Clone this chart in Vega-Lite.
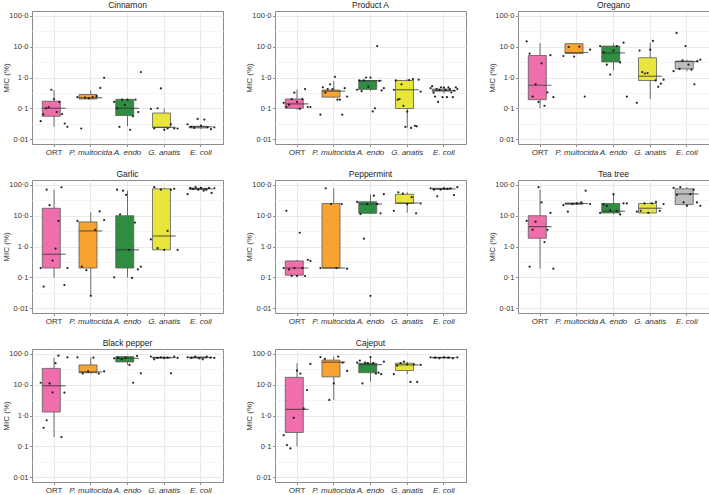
{
"$schema": "https://vega.github.io/schema/vega-lite/v6.json",
"padding": {"left": 1, "top": 0, "right": 0, "bottom": 0},
"config": {
  "font": "Liberation Sans",
  "view": {"stroke": "#8c8c8c", "strokeWidth": 1},
  "axis": {"labelFontSize": 7.5, "titleFontSize": 8, "titleFontWeight": "normal", "labelColor": "#333", "titleColor": "#333", "domain": false, "tickColor": "#8c8c8c", "tickSize": 2.5, "labelPadding": 1.5, "titlePadding": 1, "gridColor": "#e3e3e3", "gridWidth": 0.8, "minExtent": 0},
  "axisX": {"labelFontSize": 8},
  "axisY": {"titleX": -22},
  "header": {"labelFontSize": 8.5, "labelColor": "#222", "labelPadding": 2}
},
"data": {"values": [
{"oil":"Cinnamon","g":"ORT","lo":0.025,"q1":0.055,"med":0.1,"q3":0.17,"hi":0.39},
{"oil":"Cinnamon","g":"P. multocida","lo":0.2,"q1":0.2,"med":0.22,"q3":0.28,"hi":0.38},
{"oil":"Cinnamon","g":"A. endo","lo":0.026,"q1":0.058,"med":0.1,"q3":0.195,"hi":0.2},
{"oil":"Cinnamon","g":"G. anatis","lo":0.022,"q1":0.024,"med":0.024,"q3":0.07,"hi":0.098},
{"oil":"Cinnamon","g":"E. coli","lo":0.021,"q1":0.023,"med":0.025,"q3":0.026,"hi":0.03},
{"oil":"Product A","g":"ORT","lo":0.09,"q1":0.1,"med":0.14,"q3":0.2,"hi":0.41},
{"oil":"Product A","g":"P. multocida","lo":0.23,"q1":0.23,"med":0.36,"q3":0.39,"hi":0.76},
{"oil":"Product A","g":"A. endo","lo":0.36,"q1":0.41,"med":0.78,"q3":0.8,"hi":0.8},
{"oil":"Product A","g":"G. anatis","lo":0.023,"q1":0.098,"med":0.4,"q3":0.8,"hi":0.88},
{"oil":"Product A","g":"E. coli","lo":0.3,"q1":0.36,"med":0.38,"q3":0.42,"hi":0.5},
{"oil":"Oregano","g":"ORT","lo":0.1,"q1":0.19,"med":0.56,"q3":5.2,"hi":13},
{"oil":"Oregano","g":"P. multocida","lo":6,"q1":6,"med":6.5,"q3":12.6,"hi":12.6},
{"oil":"Oregano","g":"A. endo","lo":1.7,"q1":3.2,"med":6.3,"q3":10.5,"hi":12.6},
{"oil":"Oregano","g":"G. anatis","lo":0.2,"q1":0.8,"med":1.1,"q3":4.4,"hi":13.5},
{"oil":"Oregano","g":"E. coli","lo":1.6,"q1":1.9,"med":3.3,"q3":3.4,"hi":3.8},
{"oil":"Garlic","g":"ORT","lo":0.098,"q1":0.2,"med":0.56,"q3":17.5,"hi":70},
{"oil":"Garlic","g":"P. multocida","lo":0.025,"q1":0.2,"med":3.2,"q3":6.3,"hi":12.8},
{"oil":"Garlic","g":"A. endo","lo":0.098,"q1":0.2,"med":0.78,"q3":10,"hi":65},
{"oil":"Garlic","g":"G. anatis","lo":0.78,"q1":0.78,"med":2.2,"q3":75,"hi":80},
{"oil":"Garlic","g":"E. coli","lo":70,"q1":72,"med":75,"q3":78,"hi":85},
{"oil":"Peppermint","g":"ORT","lo":0.11,"q1":0.117,"med":0.2,"q3":0.34,"hi":0.37},
{"oil":"Peppermint","g":"P. multocida","lo":0.2,"q1":0.2,"med":0.2,"q3":25,"hi":78},
{"oil":"Peppermint","g":"A. endo","lo":11.3,"q1":12,"med":24,"q3":28.5,"hi":48},
{"oil":"Peppermint","g":"G. anatis","lo":12.5,"q1":25,"med":26,"q3":50,"hi":58},
{"oil":"Peppermint","g":"E. coli","lo":70,"q1":72,"med":75,"q3":78,"hi":85},
{"oil":"Tea tree","g":"ORT","lo":0.19,"q1":1.86,"med":4.4,"q3":10,"hi":70},
{"oil":"Tea tree","g":"P. multocida","lo":22,"q1":23.5,"med":25,"q3":26,"hi":27},
{"oil":"Tea tree","g":"A. endo","lo":11,"q1":12.3,"med":14,"q3":25,"hi":50},
{"oil":"Tea tree","g":"G. anatis","lo":12.3,"q1":12.3,"med":17.5,"q3":25,"hi":28},
{"oil":"Tea tree","g":"E. coli","lo":21,"q1":23,"med":51,"q3":75,"hi":85},
{"oil":"Black pepper","g":"ORT","lo":0.2,"q1":1.3,"med":9.3,"q3":34,"hi":76},
{"oil":"Black pepper","g":"P. multocida","lo":23,"q1":24.6,"med":26,"q3":44,"hi":78},
{"oil":"Black pepper","g":"A. endo","lo":44,"q1":55,"med":72,"q3":82,"hi":86},
{"oil":"Black pepper","g":"G. anatis","lo":67,"q1":74,"med":76,"q3":78,"hi":82},
{"oil":"Black pepper","g":"E. coli","lo":67,"q1":74,"med":77,"q3":79,"hi":82},
{"oil":"Cajeput","g":"ORT","lo":0.1,"q1":0.28,"med":1.58,"q3":17.4,"hi":50},
{"oil":"Cajeput","g":"P. multocida","lo":3.2,"q1":18,"med":54,"q3":63,"hi":82},
{"oil":"Cajeput","g":"A. endo","lo":12.5,"q1":24.6,"med":45,"q3":50,"hi":76},
{"oil":"Cajeput","g":"G. anatis","lo":22,"q1":29,"med":44,"q3":50,"hi":56},
{"oil":"Cajeput","g":"E. coli","lo":72,"q1":75,"med":76,"q3":78,"hi":79},

{"oil":"Cinnamon","g":"ORT","v":0.038,"k":1},{"oil":"Cinnamon","g":"ORT","v":0.063,"k":2},{"oil":"Cinnamon","g":"ORT","v":0.1,"k":3},{"oil":"Cinnamon","g":"ORT","v":0.11,"k":4},{"oil":"Cinnamon","g":"ORT","v":0.4,"k":5},{"oil":"Cinnamon","g":"ORT","v":0.2,"k":6},{"oil":"Cinnamon","g":"ORT","v":0.075,"k":7},{"oil":"Cinnamon","g":"ORT","v":0.16,"k":8},{"oil":"Cinnamon","g":"ORT","v":0.065,"k":9},{"oil":"Cinnamon","g":"ORT","v":0.032,"k":10},{"oil":"Cinnamon","g":"ORT","v":0.025,"k":11},
{"oil":"Cinnamon","g":"P. multocida","v":0.23,"k":1},{"oil":"Cinnamon","g":"P. multocida","v":0.022,"k":2},{"oil":"Cinnamon","g":"P. multocida","v":0.22,"k":3},{"oil":"Cinnamon","g":"P. multocida","v":0.21,"k":4},{"oil":"Cinnamon","g":"P. multocida","v":0.23,"k":5},{"oil":"Cinnamon","g":"P. multocida","v":0.25,"k":6},{"oil":"Cinnamon","g":"P. multocida","v":0.46,"k":7},{"oil":"Cinnamon","g":"P. multocida","v":0.98,"k":8},
{"oil":"Cinnamon","g":"A. endo","v":0.16,"k":1},{"oil":"Cinnamon","g":"A. endo","v":0.1,"k":2},{"oil":"Cinnamon","g":"A. endo","v":0.025,"k":3},{"oil":"Cinnamon","g":"A. endo","v":0.19,"k":4},{"oil":"Cinnamon","g":"A. endo","v":0.13,"k":5},{"oil":"Cinnamon","g":"A. endo","v":0.19,"k":6},{"oil":"Cinnamon","g":"A. endo","v":0.02,"k":7},{"oil":"Cinnamon","g":"A. endo","v":0.055,"k":8},{"oil":"Cinnamon","g":"A. endo","v":0.19,"k":9},{"oil":"Cinnamon","g":"A. endo","v":0.075,"k":10},{"oil":"Cinnamon","g":"A. endo","v":1.5,"k":11},
{"oil":"Cinnamon","g":"G. anatis","v":0.095,"k":1},{"oil":"Cinnamon","g":"G. anatis","v":0.022,"k":2},{"oil":"Cinnamon","g":"G. anatis","v":0.1,"k":3},{"oil":"Cinnamon","g":"G. anatis","v":0.44,"k":4},{"oil":"Cinnamon","g":"G. anatis","v":0.02,"k":5},{"oil":"Cinnamon","g":"G. anatis","v":0.022,"k":6},{"oil":"Cinnamon","g":"G. anatis","v":0.03,"k":7},{"oil":"Cinnamon","g":"G. anatis","v":0.022,"k":8},{"oil":"Cinnamon","g":"G. anatis","v":0.022,"k":9},
{"oil":"Cinnamon","g":"E. coli","v":0.03,"k":1},{"oil":"Cinnamon","g":"E. coli","v":0.025,"k":2},{"oil":"Cinnamon","g":"E. coli","v":0.023,"k":3},{"oil":"Cinnamon","g":"E. coli","v":0.045,"k":4},{"oil":"Cinnamon","g":"E. coli","v":0.027,"k":5},{"oil":"Cinnamon","g":"E. coli","v":0.043,"k":6},{"oil":"Cinnamon","g":"E. coli","v":0.024,"k":7},{"oil":"Cinnamon","g":"E. coli","v":0.021,"k":8},{"oil":"Cinnamon","g":"E. coli","v":0.024,"k":9},

{"oil":"Product A","g":"ORT","v":0.15,"k":1},{"oil":"Product A","g":"ORT","v":0.11,"k":2},{"oil":"Product A","g":"ORT","v":0.13,"k":3},{"oil":"Product A","g":"ORT","v":0.2,"k":4},{"oil":"Product A","g":"ORT","v":0.32,"k":5},{"oil":"Product A","g":"ORT","v":0.16,"k":6},{"oil":"Product A","g":"ORT","v":0.095,"k":7},{"oil":"Product A","g":"ORT","v":0.2,"k":8},{"oil":"Product A","g":"ORT","v":0.42,"k":9},{"oil":"Product A","g":"ORT","v":0.11,"k":10},{"oil":"Product A","g":"ORT","v":0.11,"k":11},
{"oil":"Product A","g":"P. multocida","v":0.062,"k":1},{"oil":"Product A","g":"P. multocida","v":0.48,"k":2},{"oil":"Product A","g":"P. multocida","v":0.32,"k":3},{"oil":"Product A","g":"P. multocida","v":0.42,"k":4},{"oil":"Product A","g":"P. multocida","v":0.6,"k":5},{"oil":"Product A","g":"P. multocida","v":0.42,"k":6},{"oil":"Product A","g":"P. multocida","v":1.05,"k":7},{"oil":"Product A","g":"P. multocida","v":0.19,"k":8},{"oil":"Product A","g":"P. multocida","v":0.19,"k":9},{"oil":"Product A","g":"P. multocida","v":0.062,"k":10},{"oil":"Product A","g":"P. multocida","v":0.45,"k":11},{"oil":"Product A","g":"P. multocida","v":0.24,"k":12},
{"oil":"Product A","g":"A. endo","v":0.4,"k":1},{"oil":"Product A","g":"A. endo","v":0.8,"k":2},{"oil":"Product A","g":"A. endo","v":0.36,"k":3},{"oil":"Product A","g":"A. endo","v":0.8,"k":4},{"oil":"Product A","g":"A. endo","v":1.0,"k":5},{"oil":"Product A","g":"A. endo","v":0.5,"k":6},{"oil":"Product A","g":"A. endo","v":1.0,"k":7},{"oil":"Product A","g":"A. endo","v":0.079,"k":8},{"oil":"Product A","g":"A. endo","v":0.1,"k":9},{"oil":"Product A","g":"A. endo","v":10.5,"k":10},{"oil":"Product A","g":"A. endo","v":0.78,"k":11},{"oil":"Product A","g":"A. endo","v":0.38,"k":12},{"oil":"Product A","g":"A. endo","v":0.45,"k":13},
{"oil":"Product A","g":"G. anatis","v":0.4,"k":1},{"oil":"Product A","g":"G. anatis","v":0.8,"k":2},{"oil":"Product A","g":"G. anatis","v":0.19,"k":3},{"oil":"Product A","g":"G. anatis","v":0.2,"k":4},{"oil":"Product A","g":"G. anatis","v":0.6,"k":5},{"oil":"Product A","g":"G. anatis","v":0.12,"k":6},{"oil":"Product A","g":"G. anatis","v":0.025,"k":7},{"oil":"Product A","g":"G. anatis","v":0.078,"k":8},{"oil":"Product A","g":"G. anatis","v":0.83,"k":9},{"oil":"Product A","g":"G. anatis","v":0.023,"k":10},{"oil":"Product A","g":"G. anatis","v":0.88,"k":11},{"oil":"Product A","g":"G. anatis","v":0.027,"k":12},{"oil":"Product A","g":"G. anatis","v":0.026,"k":13},{"oil":"Product A","g":"G. anatis","v":0.85,"k":14},{"oil":"Product A","g":"G. anatis","v":0.35,"k":15},
{"oil":"Product A","g":"E. coli","v":0.45,"k":1},{"oil":"Product A","g":"E. coli","v":0.52,"k":2},{"oil":"Product A","g":"E. coli","v":0.32,"k":3},{"oil":"Product A","g":"E. coli","v":0.24,"k":4},{"oil":"Product A","g":"E. coli","v":0.42,"k":5},{"oil":"Product A","g":"E. coli","v":0.16,"k":6},{"oil":"Product A","g":"E. coli","v":0.4,"k":7},{"oil":"Product A","g":"E. coli","v":0.48,"k":8},{"oil":"Product A","g":"E. coli","v":0.23,"k":9},{"oil":"Product A","g":"E. coli","v":0.47,"k":10},{"oil":"Product A","g":"E. coli","v":0.4,"k":11},{"oil":"Product A","g":"E. coli","v":0.23,"k":12},{"oil":"Product A","g":"E. coli","v":0.48,"k":13},{"oil":"Product A","g":"E. coli","v":0.42,"k":14},{"oil":"Product A","g":"E. coli","v":0.33,"k":15},{"oil":"Product A","g":"E. coli","v":0.23,"k":16},{"oil":"Product A","g":"E. coli","v":0.37,"k":17},{"oil":"Product A","g":"E. coli","v":0.48,"k":18},{"oil":"Product A","g":"E. coli","v":0.42,"k":19},

{"oil":"Oregano","g":"ORT","v":15,"k":1},{"oil":"Oregano","g":"ORT","v":6,"k":2},{"oil":"Oregano","g":"ORT","v":0.24,"k":3},{"oil":"Oregano","g":"ORT","v":0.6,"k":4},{"oil":"Oregano","g":"ORT","v":0.16,"k":5},{"oil":"Oregano","g":"ORT","v":2.9,"k":6},{"oil":"Oregano","g":"ORT","v":0.12,"k":7},{"oil":"Oregano","g":"ORT","v":0.33,"k":8},{"oil":"Oregano","g":"ORT","v":5.3,"k":9},{"oil":"Oregano","g":"ORT","v":0.23,"k":10},
{"oil":"Oregano","g":"P. multocida","v":5,"k":1},{"oil":"Oregano","g":"P. multocida","v":9.8,"k":2},{"oil":"Oregano","g":"P. multocida","v":4.8,"k":3},{"oil":"Oregano","g":"P. multocida","v":10,"k":4},{"oil":"Oregano","g":"P. multocida","v":0.24,"k":5},{"oil":"Oregano","g":"P. multocida","v":8,"k":6},
{"oil":"Oregano","g":"A. endo","v":10.5,"k":1},{"oil":"Oregano","g":"A. endo","v":6.6,"k":2},{"oil":"Oregano","g":"A. endo","v":2.6,"k":3},{"oil":"Oregano","g":"A. endo","v":1.25,"k":4},{"oil":"Oregano","g":"A. endo","v":7.5,"k":5},{"oil":"Oregano","g":"A. endo","v":10.5,"k":6},{"oil":"Oregano","g":"A. endo","v":3.1,"k":7},{"oil":"Oregano","g":"A. endo","v":13.5,"k":8},{"oil":"Oregano","g":"A. endo","v":0.24,"k":9},
{"oil":"Oregano","g":"G. anatis","v":0.15,"k":1},{"oil":"Oregano","g":"G. anatis","v":7.5,"k":2},{"oil":"Oregano","g":"G. anatis","v":1.5,"k":3},{"oil":"Oregano","g":"G. anatis","v":1.35,"k":4},{"oil":"Oregano","g":"G. anatis","v":1.4,"k":5},{"oil":"Oregano","g":"G. anatis","v":8,"k":6},{"oil":"Oregano","g":"G. anatis","v":15.5,"k":7},{"oil":"Oregano","g":"G. anatis","v":0.8,"k":8},{"oil":"Oregano","g":"G. anatis","v":0.5,"k":9},{"oil":"Oregano","g":"G. anatis","v":0.63,"k":10},{"oil":"Oregano","g":"G. anatis","v":0.85,"k":11},
{"oil":"Oregano","g":"E. coli","v":1.6,"k":1},{"oil":"Oregano","g":"E. coli","v":28,"k":2},{"oil":"Oregano","g":"E. coli","v":1.9,"k":3},{"oil":"Oregano","g":"E. coli","v":3.6,"k":4},{"oil":"Oregano","g":"E. coli","v":10.5,"k":5},{"oil":"Oregano","g":"E. coli","v":2.6,"k":6},{"oil":"Oregano","g":"E. coli","v":1.8,"k":7},{"oil":"Oregano","g":"E. coli","v":0.6,"k":8},{"oil":"Oregano","g":"E. coli","v":3.4,"k":9},{"oil":"Oregano","g":"E. coli","v":3.8,"k":10},

{"oil":"Garlic","g":"ORT","v":0.2,"k":1},{"oil":"Garlic","g":"ORT","v":0.05,"k":2},{"oil":"Garlic","g":"ORT","v":70,"k":3},{"oil":"Garlic","g":"ORT","v":22,"k":4},{"oil":"Garlic","g":"ORT","v":0.35,"k":5},{"oil":"Garlic","g":"ORT","v":0.86,"k":6},{"oil":"Garlic","g":"ORT","v":6.8,"k":7},{"oil":"Garlic","g":"ORT","v":84,"k":8},{"oil":"Garlic","g":"ORT","v":0.056,"k":9},{"oil":"Garlic","g":"ORT","v":0.2,"k":10},
{"oil":"Garlic","g":"P. multocida","v":6.8,"k":1},{"oil":"Garlic","g":"P. multocida","v":0.22,"k":2},{"oil":"Garlic","g":"P. multocida","v":0.17,"k":3},{"oil":"Garlic","g":"P. multocida","v":0.025,"k":4},{"oil":"Garlic","g":"P. multocida","v":3.5,"k":5},{"oil":"Garlic","g":"P. multocida","v":13.8,"k":6},{"oil":"Garlic","g":"P. multocida","v":7.2,"k":7},
{"oil":"Garlic","g":"A. endo","v":0.1,"k":1},{"oil":"Garlic","g":"A. endo","v":70,"k":2},{"oil":"Garlic","g":"A. endo","v":11,"k":3},{"oil":"Garlic","g":"A. endo","v":65,"k":4},{"oil":"Garlic","g":"A. endo","v":48,"k":5},{"oil":"Garlic","g":"A. endo","v":0.78,"k":6},{"oil":"Garlic","g":"A. endo","v":0.095,"k":7},{"oil":"Garlic","g":"A. endo","v":6,"k":8},{"oil":"Garlic","g":"A. endo","v":0.18,"k":9},{"oil":"Garlic","g":"A. endo","v":0.22,"k":10},
{"oil":"Garlic","g":"G. anatis","v":1.7,"k":1},{"oil":"Garlic","g":"G. anatis","v":85,"k":2},{"oil":"Garlic","g":"G. anatis","v":0.88,"k":3},{"oil":"Garlic","g":"G. anatis","v":70,"k":4},{"oil":"Garlic","g":"G. anatis","v":0.78,"k":5},{"oil":"Garlic","g":"G. anatis","v":3.2,"k":6},{"oil":"Garlic","g":"G. anatis","v":70,"k":7},{"oil":"Garlic","g":"G. anatis","v":75,"k":8},{"oil":"Garlic","g":"G. anatis","v":0.78,"k":9},
{"oil":"Garlic","g":"E. coli","v":50,"k":1},{"oil":"Garlic","g":"E. coli","v":80,"k":2},{"oil":"Garlic","g":"E. coli","v":75,"k":3},{"oil":"Garlic","g":"E. coli","v":85,"k":4},{"oil":"Garlic","g":"E. coli","v":70,"k":5},{"oil":"Garlic","g":"E. coli","v":80,"k":6},{"oil":"Garlic","g":"E. coli","v":65,"k":7},{"oil":"Garlic","g":"E. coli","v":70,"k":8},{"oil":"Garlic","g":"E. coli","v":80,"k":9},{"oil":"Garlic","g":"E. coli","v":55,"k":10},{"oil":"Garlic","g":"E. coli","v":78,"k":11},

{"oil":"Peppermint","g":"ORT","v":0.2,"k":1},{"oil":"Peppermint","g":"ORT","v":14.5,"k":2},{"oil":"Peppermint","g":"ORT","v":0.18,"k":3},{"oil":"Peppermint","g":"ORT","v":0.11,"k":4},{"oil":"Peppermint","g":"ORT","v":0.2,"k":5},{"oil":"Peppermint","g":"ORT","v":0.11,"k":6},{"oil":"Peppermint","g":"ORT","v":2.8,"k":7},{"oil":"Peppermint","g":"ORT","v":0.2,"k":8},{"oil":"Peppermint","g":"ORT","v":0.11,"k":9},{"oil":"Peppermint","g":"ORT","v":0.37,"k":10},{"oil":"Peppermint","g":"ORT","v":0.34,"k":11},
{"oil":"Peppermint","g":"P. multocida","v":0.2,"k":1},{"oil":"Peppermint","g":"P. multocida","v":78,"k":2},{"oil":"Peppermint","g":"P. multocida","v":24,"k":3},{"oil":"Peppermint","g":"P. multocida","v":0.2,"k":4},{"oil":"Peppermint","g":"P. multocida","v":24,"k":5},{"oil":"Peppermint","g":"P. multocida","v":0.19,"k":6},
{"oil":"Peppermint","g":"A. endo","v":28,"k":1},{"oil":"Peppermint","g":"A. endo","v":11.3,"k":2},{"oil":"Peppermint","g":"A. endo","v":1.8,"k":3},{"oil":"Peppermint","g":"A. endo","v":24,"k":4},{"oil":"Peppermint","g":"A. endo","v":0.025,"k":5},{"oil":"Peppermint","g":"A. endo","v":45,"k":6},{"oil":"Peppermint","g":"A. endo","v":24,"k":7},{"oil":"Peppermint","g":"A. endo","v":12,"k":8},{"oil":"Peppermint","g":"A. endo","v":50,"k":9},
{"oil":"Peppermint","g":"G. anatis","v":14.5,"k":1},{"oil":"Peppermint","g":"G. anatis","v":58,"k":2},{"oil":"Peppermint","g":"G. anatis","v":52,"k":3},{"oil":"Peppermint","g":"G. anatis","v":24,"k":4},{"oil":"Peppermint","g":"G. anatis","v":40,"k":5},{"oil":"Peppermint","g":"G. anatis","v":12,"k":6},{"oil":"Peppermint","g":"G. anatis","v":25,"k":7},
{"oil":"Peppermint","g":"E. coli","v":78,"k":1},{"oil":"Peppermint","g":"E. coli","v":70,"k":2},{"oil":"Peppermint","g":"E. coli","v":43,"k":3},{"oil":"Peppermint","g":"E. coli","v":70,"k":4},{"oil":"Peppermint","g":"E. coli","v":78,"k":5},{"oil":"Peppermint","g":"E. coli","v":75,"k":6},{"oil":"Peppermint","g":"E. coli","v":78,"k":7},{"oil":"Peppermint","g":"E. coli","v":47,"k":8},{"oil":"Peppermint","g":"E. coli","v":85,"k":9},

{"oil":"Tea tree","g":"ORT","v":6.8,"k":1},{"oil":"Tea tree","g":"ORT","v":0.22,"k":2},{"oil":"Tea tree","g":"ORT","v":3.5,"k":3},{"oil":"Tea tree","g":"ORT","v":6.4,"k":4},{"oil":"Tea tree","g":"ORT","v":85,"k":5},{"oil":"Tea tree","g":"ORT","v":27,"k":6},{"oil":"Tea tree","g":"ORT","v":1.4,"k":7},{"oil":"Tea tree","g":"ORT","v":3.5,"k":8},{"oil":"Tea tree","g":"ORT","v":12.3,"k":9},{"oil":"Tea tree","g":"ORT","v":0.19,"k":10},
{"oil":"Tea tree","g":"P. multocida","v":22,"k":1},{"oil":"Tea tree","g":"P. multocida","v":13.5,"k":2},{"oil":"Tea tree","g":"P. multocida","v":24,"k":3},{"oil":"Tea tree","g":"P. multocida","v":25,"k":4},{"oil":"Tea tree","g":"P. multocida","v":27,"k":5},{"oil":"Tea tree","g":"P. multocida","v":65,"k":6},{"oil":"Tea tree","g":"P. multocida","v":24,"k":7},
{"oil":"Tea tree","g":"A. endo","v":12.3,"k":1},{"oil":"Tea tree","g":"A. endo","v":24,"k":2},{"oil":"Tea tree","g":"A. endo","v":21,"k":3},{"oil":"Tea tree","g":"A. endo","v":15,"k":4},{"oil":"Tea tree","g":"A. endo","v":50,"k":5},{"oil":"Tea tree","g":"A. endo","v":14.5,"k":6},{"oil":"Tea tree","g":"A. endo","v":11,"k":7},{"oil":"Tea tree","g":"A. endo","v":25,"k":8},{"oil":"Tea tree","g":"A. endo","v":25,"k":9},
{"oil":"Tea tree","g":"G. anatis","v":13.5,"k":1},{"oil":"Tea tree","g":"G. anatis","v":14.5,"k":2},{"oil":"Tea tree","g":"G. anatis","v":25,"k":3},{"oil":"Tea tree","g":"G. anatis","v":12.3,"k":4},{"oil":"Tea tree","g":"G. anatis","v":25,"k":5},{"oil":"Tea tree","g":"G. anatis","v":28,"k":6},{"oil":"Tea tree","g":"G. anatis","v":14.5,"k":7},{"oil":"Tea tree","g":"G. anatis","v":24,"k":8},
{"oil":"Tea tree","g":"E. coli","v":80,"k":1},{"oil":"Tea tree","g":"E. coli","v":48,"k":2},{"oil":"Tea tree","g":"E. coli","v":85,"k":3},{"oil":"Tea tree","g":"E. coli","v":27,"k":4},{"oil":"Tea tree","g":"E. coli","v":21,"k":5},{"oil":"Tea tree","g":"E. coli","v":50,"k":6},{"oil":"Tea tree","g":"E. coli","v":70,"k":7},{"oil":"Tea tree","g":"E. coli","v":27,"k":8},{"oil":"Tea tree","g":"E. coli","v":21,"k":9},

{"oil":"Black pepper","g":"ORT","v":11.6,"k":1},{"oil":"Black pepper","g":"ORT","v":0.4,"k":2},{"oil":"Black pepper","g":"ORT","v":0.7,"k":3},{"oil":"Black pepper","g":"ORT","v":11,"k":4},{"oil":"Black pepper","g":"ORT","v":5.6,"k":5},{"oil":"Black pepper","g":"ORT","v":50,"k":6},{"oil":"Black pepper","g":"ORT","v":88,"k":7},{"oil":"Black pepper","g":"ORT","v":0.2,"k":8},{"oil":"Black pepper","g":"ORT","v":5.5,"k":9},{"oil":"Black pepper","g":"ORT","v":78,"k":10},
{"oil":"Black pepper","g":"P. multocida","v":78,"k":1},{"oil":"Black pepper","g":"P. multocida","v":23,"k":2},{"oil":"Black pepper","g":"P. multocida","v":27,"k":3},{"oil":"Black pepper","g":"P. multocida","v":76,"k":4},{"oil":"Black pepper","g":"P. multocida","v":23,"k":5},{"oil":"Black pepper","g":"P. multocida","v":27,"k":6},
{"oil":"Black pepper","g":"A. endo","v":72,"k":1},{"oil":"Black pepper","g":"A. endo","v":76,"k":2},{"oil":"Black pepper","g":"A. endo","v":67,"k":3},{"oil":"Black pepper","g":"A. endo","v":76,"k":4},{"oil":"Black pepper","g":"A. endo","v":44,"k":5},{"oil":"Black pepper","g":"A. endo","v":11.6,"k":6},{"oil":"Black pepper","g":"A. endo","v":86,"k":7},{"oil":"Black pepper","g":"A. endo","v":23.5,"k":8},
{"oil":"Black pepper","g":"G. anatis","v":82,"k":1},{"oil":"Black pepper","g":"G. anatis","v":67,"k":2},{"oil":"Black pepper","g":"G. anatis","v":74,"k":3},{"oil":"Black pepper","g":"G. anatis","v":78,"k":4},{"oil":"Black pepper","g":"G. anatis","v":74,"k":5},{"oil":"Black pepper","g":"G. anatis","v":76,"k":6},{"oil":"Black pepper","g":"G. anatis","v":23.5,"k":7},{"oil":"Black pepper","g":"G. anatis","v":82,"k":8},{"oil":"Black pepper","g":"G. anatis","v":74,"k":9},
{"oil":"Black pepper","g":"E. coli","v":78,"k":1},{"oil":"Black pepper","g":"E. coli","v":74,"k":2},{"oil":"Black pepper","g":"E. coli","v":82,"k":3},{"oil":"Black pepper","g":"E. coli","v":72,"k":4},{"oil":"Black pepper","g":"E. coli","v":67,"k":5},{"oil":"Black pepper","g":"E. coli","v":82,"k":6},{"oil":"Black pepper","g":"E. coli","v":76,"k":7},{"oil":"Black pepper","g":"E. coli","v":74,"k":8},

{"oil":"Cajeput","g":"ORT","v":0.23,"k":1},{"oil":"Cajeput","g":"ORT","v":0.11,"k":2},{"oil":"Cajeput","g":"ORT","v":0.085,"k":3},{"oil":"Cajeput","g":"ORT","v":0.84,"k":4},{"oil":"Cajeput","g":"ORT","v":28.7,"k":5},{"oil":"Cajeput","g":"ORT","v":23,"k":6},{"oil":"Cajeput","g":"ORT","v":1.7,"k":7},{"oil":"Cajeput","g":"ORT","v":6.7,"k":8},{"oil":"Cajeput","g":"ORT","v":47.5,"k":9},
{"oil":"Cajeput","g":"P. multocida","v":79,"k":1},{"oil":"Cajeput","g":"P. multocida","v":69,"k":2},{"oil":"Cajeput","g":"P. multocida","v":3.2,"k":3},{"oil":"Cajeput","g":"P. multocida","v":11,"k":4},{"oil":"Cajeput","g":"P. multocida","v":82,"k":5},{"oil":"Cajeput","g":"P. multocida","v":52,"k":6},{"oil":"Cajeput","g":"P. multocida","v":28,"k":7},
{"oil":"Cajeput","g":"A. endo","v":52,"k":1},{"oil":"Cajeput","g":"A. endo","v":61,"k":2},{"oil":"Cajeput","g":"A. endo","v":11,"k":3},{"oil":"Cajeput","g":"A. endo","v":52,"k":4},{"oil":"Cajeput","g":"A. endo","v":50,"k":5},{"oil":"Cajeput","g":"A. endo","v":79,"k":6},{"oil":"Cajeput","g":"A. endo","v":50,"k":7},{"oil":"Cajeput","g":"A. endo","v":23,"k":8},{"oil":"Cajeput","g":"A. endo","v":24.6,"k":9},{"oil":"Cajeput","g":"A. endo","v":22,"k":10},{"oil":"Cajeput","g":"A. endo","v":56,"k":11},
{"oil":"Cajeput","g":"G. anatis","v":22,"k":1},{"oil":"Cajeput","g":"G. anatis","v":42,"k":2},{"oil":"Cajeput","g":"G. anatis","v":50,"k":3},{"oil":"Cajeput","g":"G. anatis","v":56,"k":4},{"oil":"Cajeput","g":"G. anatis","v":46,"k":5},{"oil":"Cajeput","g":"G. anatis","v":12.3,"k":6},{"oil":"Cajeput","g":"G. anatis","v":46,"k":7},{"oil":"Cajeput","g":"G. anatis","v":12.3,"k":8},{"oil":"Cajeput","g":"G. anatis","v":44,"k":9},
{"oil":"Cajeput","g":"E. coli","v":78,"k":1},{"oil":"Cajeput","g":"E. coli","v":76,"k":2},{"oil":"Cajeput","g":"E. coli","v":72,"k":3},{"oil":"Cajeput","g":"E. coli","v":78,"k":4},{"oil":"Cajeput","g":"E. coli","v":76,"k":5},{"oil":"Cajeput","g":"E. coli","v":72,"k":6},{"oil":"Cajeput","g":"E. coli","v":78,"k":7}
]},
"facet": {"field": "oil", "type": "nominal", "title": null,
  "sort": ["Cinnamon", "Product A", "Oregano", "Garlic", "Peppermint", "Tea tree", "Black pepper", "Cajeput"]},
"columns": 3,
"spacing": {"row": 36, "column": 52},
"bounds": "flush",
"resolve": {"axis": {"x": "independent", "y": "independent"}},
"spec": {
  "width": 191,
  "height": 133,
  "encoding": {
    "x": {"field": "g", "type": "nominal", "sort": ["ORT", "P. multocida", "A. endo", "G. anatis", "E. coli"],
      "scale": {"paddingInner": 0.2, "paddingOuter": 0.2},
      "axis": {"title": null, "labelAngle": 0, "grid": true,
        "labelFontStyle": {"condition": {"test": "datum.value !== 'ORT'", "value": "italic"}, "value": "normal"}}}
  },
  "layer": [
    {"transform": [{"filter": "isValid(datum.med)"}],
     "mark": {"type": "rule", "color": "#6b6b6b", "strokeWidth": 1},
     "encoding": {
       "y": {"field": "lo", "type": "quantitative", "title": "MIC (%)",
         "scale": {"type": "log", "domain": [0.0069, 145], "nice": false},
         "axis": {"values": [0.01, 0.0316, 0.1, 0.316, 1, 3.16, 10, 31.6, 100],
           "labelExpr": "datum.value == 0.01 ? '0·01' : (abs(log(datum.value)/LN10 - round(log(datum.value)/LN10)) > 0.1 ? '' : replace(format(datum.value, '.1f'), '.', '·'))",
           "gridColor": {"condition": {"test": "abs(log(datum.value)/LN10 - round(log(datum.value)/LN10)) > 0.1", "value": "#f1f1f1"}, "value": "#e3e3e3"},
           "tickOpacity": {"condition": {"test": "abs(log(datum.value)/LN10 - round(log(datum.value)/LN10)) > 0.1", "value": 0}, "value": 1}}},
       "y2": {"field": "hi"}}},
    {"transform": [{"filter": "isValid(datum.med)"}],
     "mark": {"type": "bar", "width": {"band": 0.8}, "stroke": "#5a5a5a", "strokeWidth": 0.8},
     "encoding": {
       "y": {"field": "q1", "type": "quantitative", "title": "MIC (%)"},
       "y2": {"field": "q3"},
       "fill": {"field": "g", "type": "nominal", "legend": null,
         "scale": {"domain": ["ORT", "P. multocida", "A. endo", "G. anatis", "E. coli"], "range": ["#ee6fab", "#f7a332", "#2f8c40", "#e8e63c", "#bdbdbd"]}}}},
    {"transform": [{"filter": "isValid(datum.med)"}],
     "mark": {"type": "tick", "color": "#333333", "thickness": 1.2, "size": 23},
     "encoding": {"y": {"field": "med", "type": "quantitative", "title": "MIC (%)"}}},
    {"transform": [{"filter": "isValid(datum.v)"},
       {"window": [{"op": "percent_rank", "as": "pr"}], "groupby": ["oil", "g"], "sort": [{"field": "k"}]}],
     "mark": {"type": "circle", "size": 5, "color": "#111111", "opacity": 0.9},
     "encoding": {
       "y": {"field": "v", "type": "quantitative", "title": "MIC (%)"},
       "xOffset": {"field": "pr", "type": "quantitative", "scale": {"domain": [-0.05, 1.05]}}}}
  ]
}
}
